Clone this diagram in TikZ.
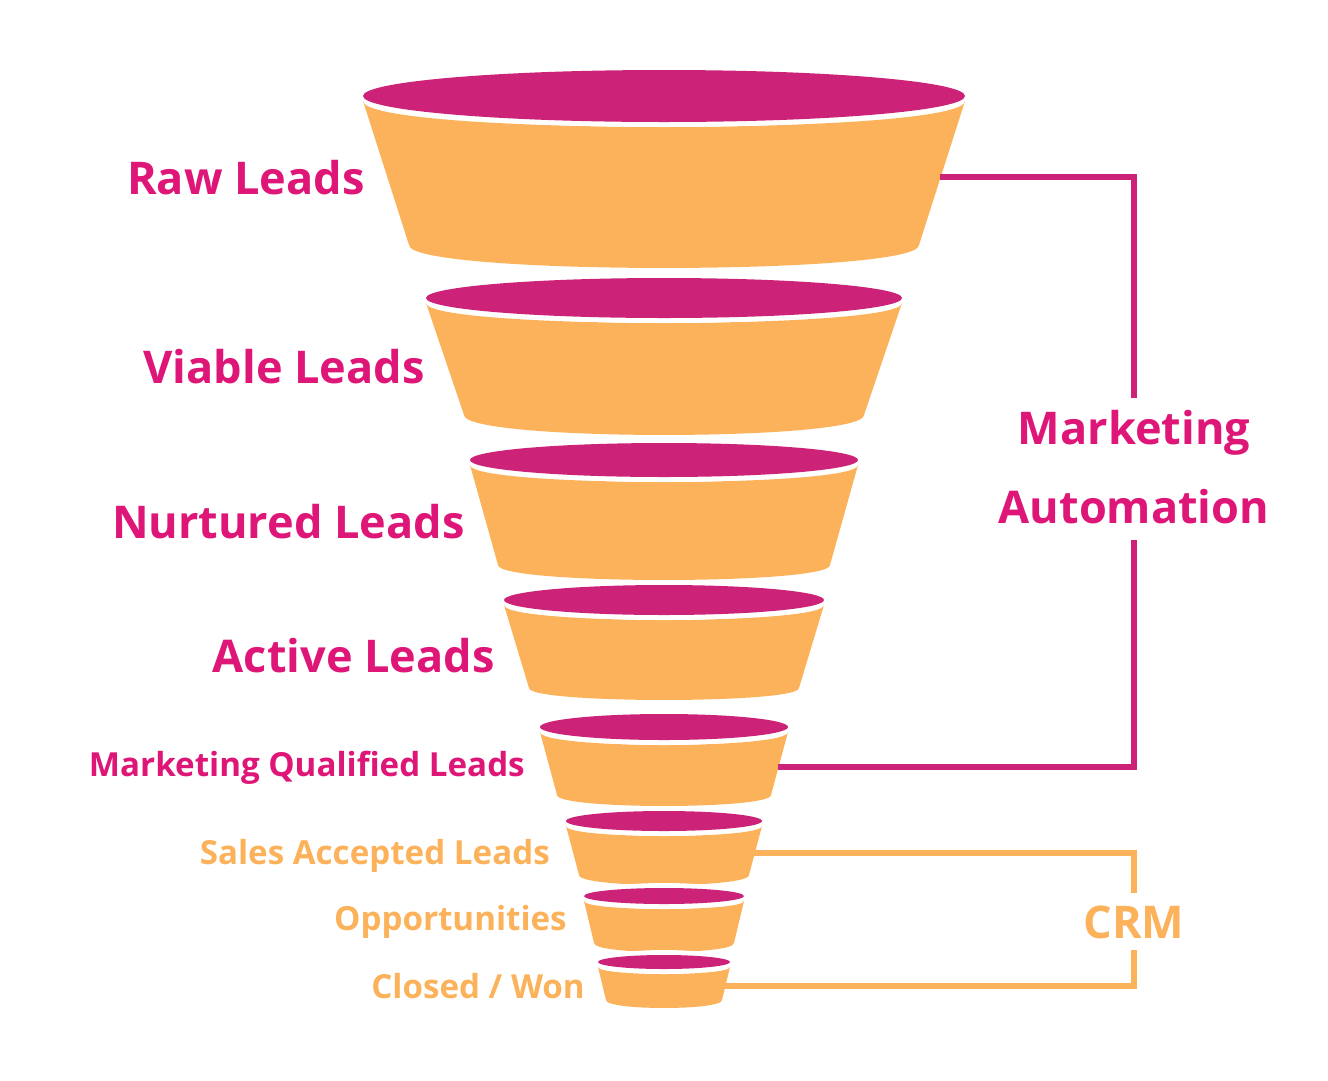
\documentclass[tikz,border=0pt]{standalone}
\usepackage{fontspec}
\setmainfont{Open Sans}
\definecolor{funpink}{HTML}{CC2277}
\definecolor{txtpink}{HTML}{DE1677}
\definecolor{funorange}{HTML}{FBB25A}
\tikzset{
  biglabel/.style={anchor=east,font=\fontsize{34}{40}\bfseries\selectfont,text=txtpink,inner sep=0pt},
  smalllabel/.style={anchor=east,font=\fontsize{25}{30}\bfseries\selectfont,inner sep=0pt},
  bracket/.style={line width=5.25pt},
}
\begin{document}
\begin{tikzpicture}[x=0.0265cm,y=-0.0265cm]
\useasboundingbox (0,0) rectangle (1328,1080);

% funnel slices: half width, ellipse centre, ellipse radius, bottom half width, bottom y, bulge
\foreach \a/\cy/\ry/\b/\by/\h in {301/96/26/255/245/23, 238/298/20/200/415/20, 194/460/17/166/565/15,
  160/600/15/135/688/12, 124/727/13/107/795/11, 98/821/10/85/875/10, 80/896/8/70/943/9, 66/962/7/58/1000/8}{
  \fill[funorange] ({664-\a},{\cy+5}) .. controls ({664-\a},{\cy+5+1.33*\ry}) and ({664+\a},{\cy+5+1.33*\ry}) .. ({664+\a},{\cy+5})
    -- ({664+\b},{\by}) .. controls ({664+\b},{\by+1.33*\h}) and ({664-\b},{\by+1.33*\h}) .. ({664-\b},{\by}) -- cycle;
  \fill[white] (664,\cy) ellipse ({\a+2} and {\ry+5});
  \fill[funpink] (664,\cy) ellipse ({\a} and {\ry});
}

\node[biglabel] (raw) at (365,178) {Raw Leads};
\node[biglabel] (viable) at (425,367) {Viable Leads};
\node[biglabel] (nurtured) at (465,522) {Nurtured Leads};
\node[biglabel] (active) at (495,656) {Active Leads};
\node[smalllabel,text=txtpink] (mql) at (525,768) {Marketing Qualified Leads};
\node[smalllabel,text=funorange] (sal) at (550,856) {Sales Accepted Leads};
\node[smalllabel,text=funorange] (opp) at (567,922) {Opportunities};
\node[smalllabel,text=funorange] (won) at (585,986) {Closed / Won};

\node[font=\fontsize{34}{59}\bfseries\selectfont,text=txtpink,align=center,inner sep=0pt] (ma) at (1134,467) {Marketing\\Automation};
\node[font=\fontsize{34}{40}\bfseries\selectfont,text=funorange,inner sep=0pt] (crm) at (1134,922) {CRM};

\coordinate (maTop) at (940,177);
\coordinate (maBot) at (778,767);
\coordinate (crmTop) at (750,853);
\coordinate (crmBot) at (722,986);

\draw[bracket,funpink] (maTop) -| (1134,398);
\draw[bracket,funpink] (1134,540) |- (maBot);
\draw[bracket,funorange] (crmTop) -| (1134,893);
\draw[bracket,funorange] (1134,950) |- (crmBot);

\end{tikzpicture}
\end{document}
